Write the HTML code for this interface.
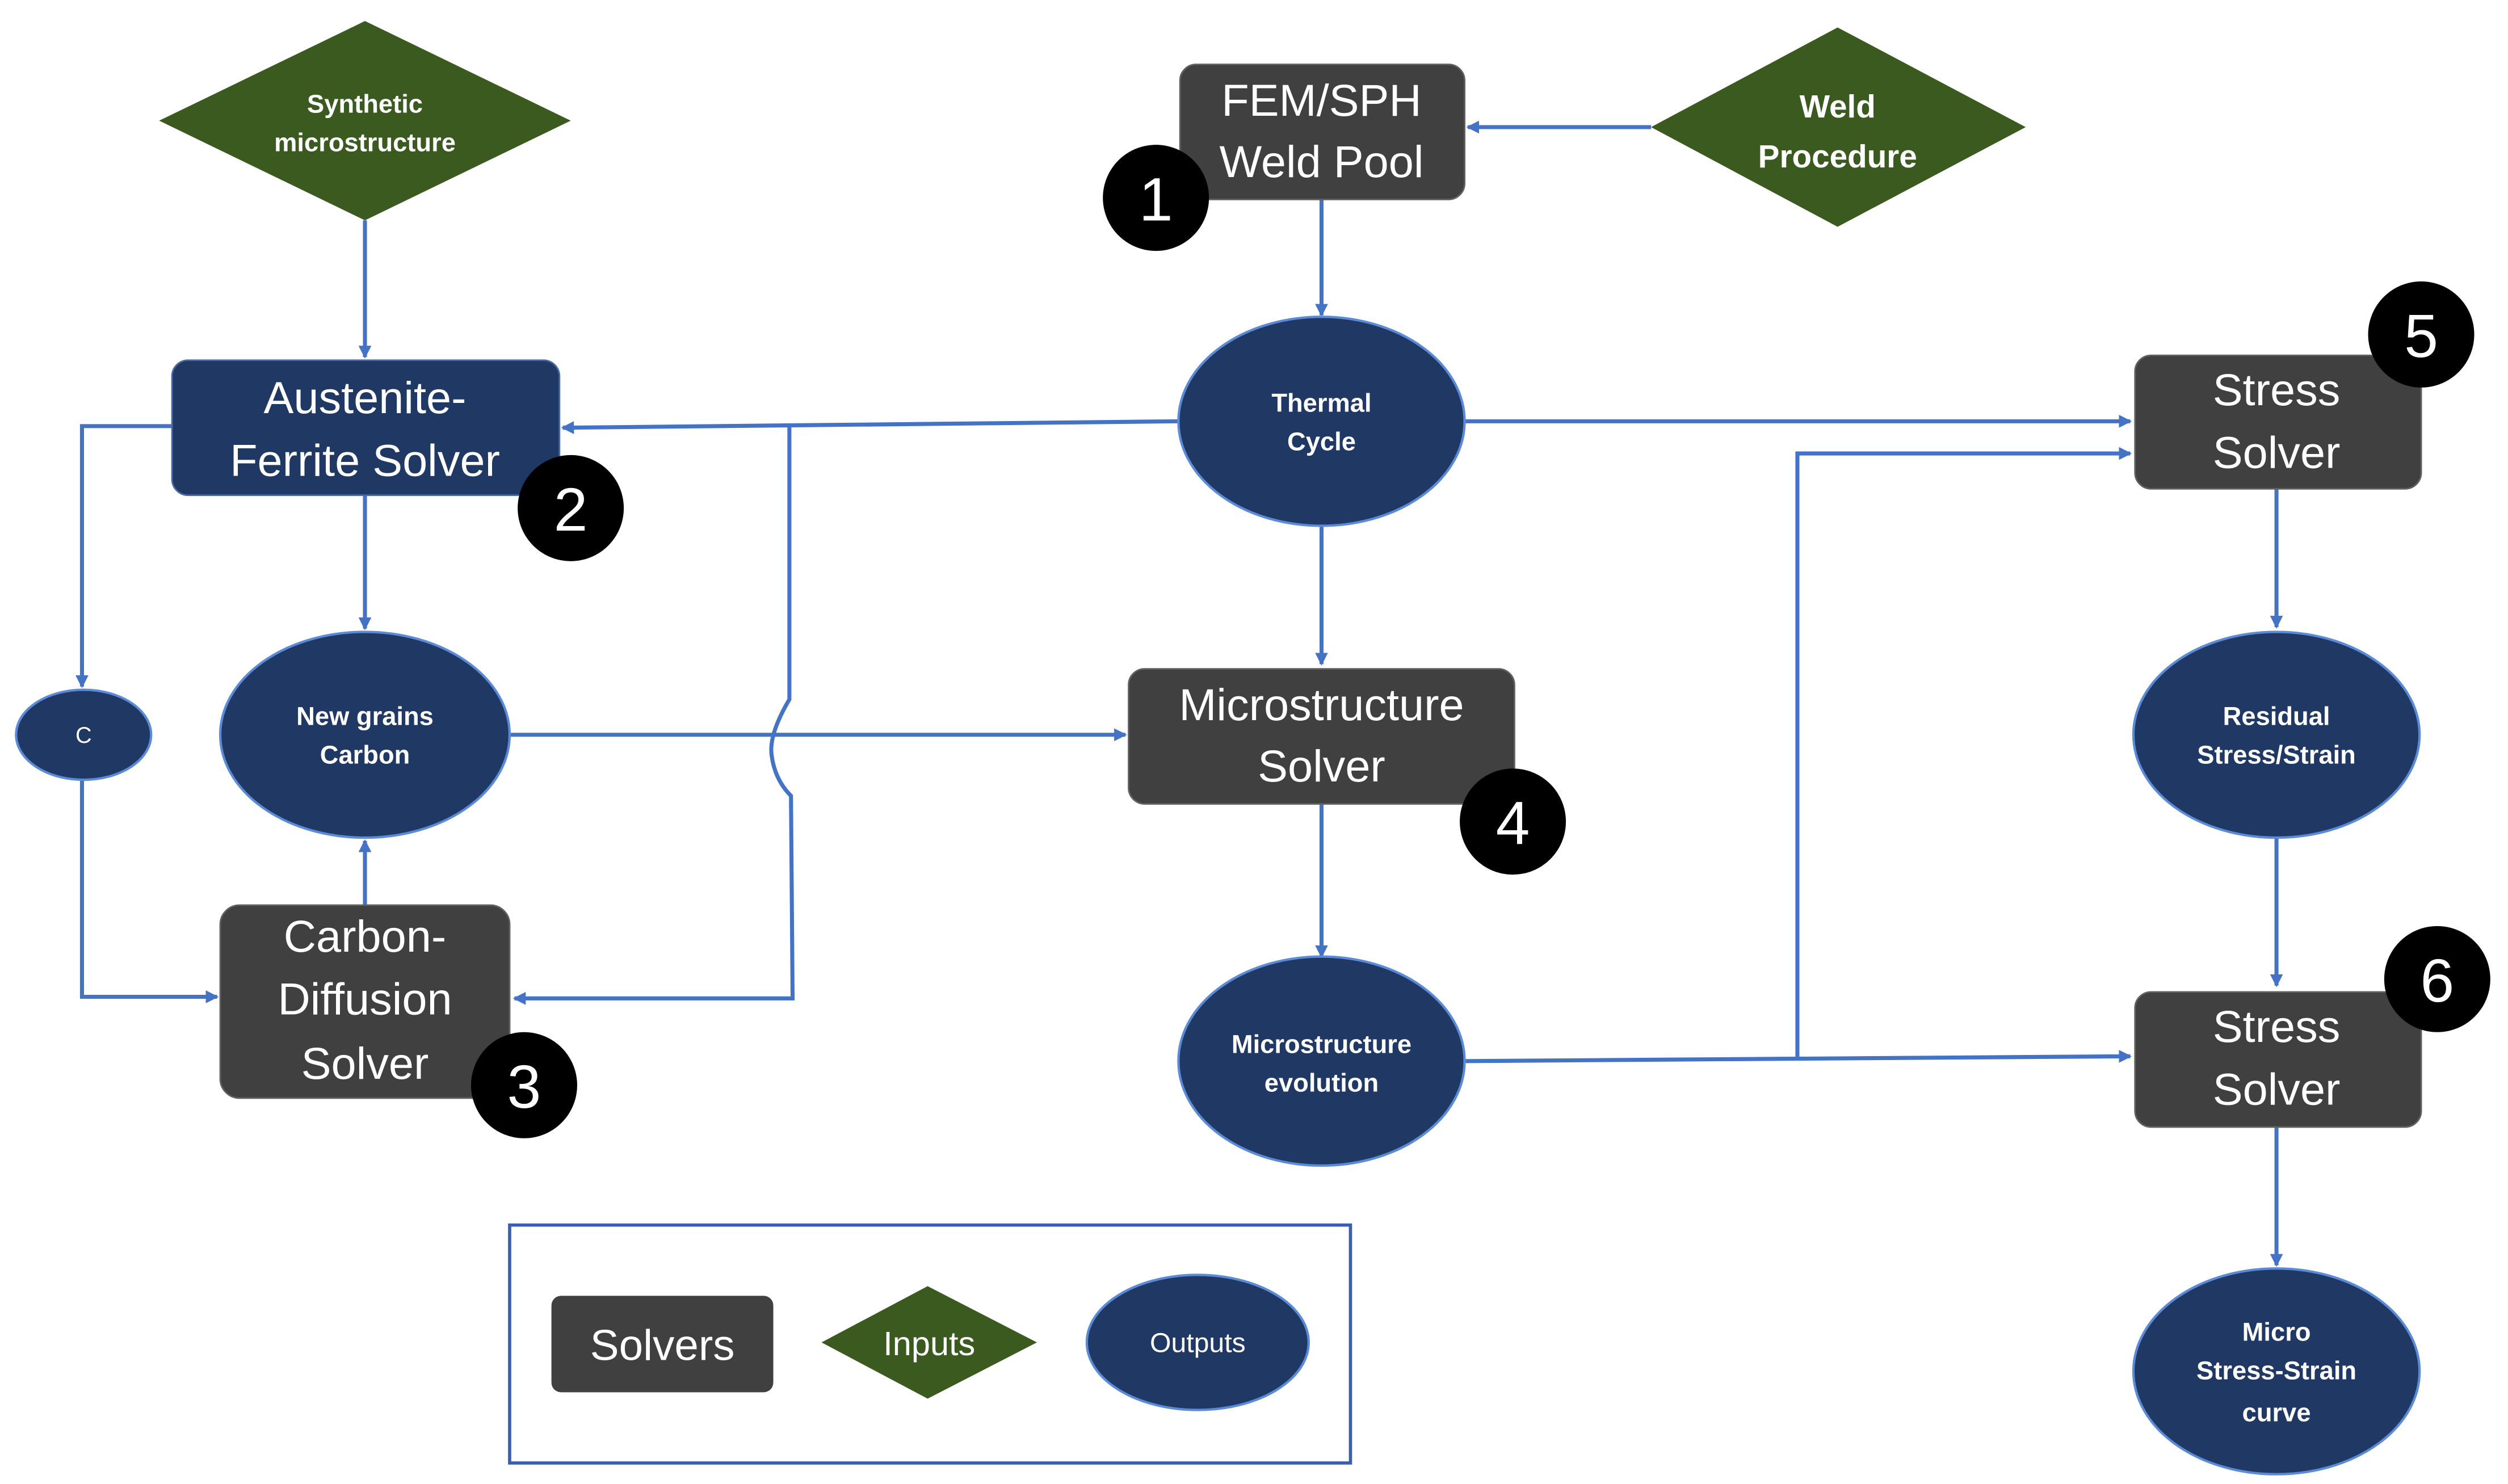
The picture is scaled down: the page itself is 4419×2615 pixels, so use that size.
<!DOCTYPE html>
<html><head><meta charset="utf-8"><style>
html,body{margin:0;padding:0;background:#fff;}
svg{display:block;}
text{font-family:"Liberation Sans",sans-serif;fill:#fff;text-anchor:middle;}
.b{font-size:28px;}
.e{font-size:16px;font-weight:bold;}
.n{font-size:38px;}
</style></head><body>
<svg width="4419" height="2615" viewBox="0 0 1560 923" xmlns="http://www.w3.org/2000/svg">
<defs><marker id="a" markerWidth="8" markerHeight="8" refX="7" refY="4" orient="auto" markerUnits="userSpaceOnUse"><path d="M0,0 L8,4 L0,8 z" fill="#4472c4"/></marker></defs>
<g stroke="#4472c4" stroke-width="2.5" fill="none">
<line x1="1027" y1="79" x2="913" y2="79" marker-end="url(#a)"/>
<line x1="822" y1="124" x2="822" y2="196" marker-end="url(#a)"/>
<line x1="227" y1="137" x2="227" y2="222" marker-end="url(#a)"/>
<line x1="733" y1="262" x2="350" y2="266" marker-end="url(#a)"/>
<path d="M491,265 L491,435 Q478,457 480,470 Q482,485 492,495 L493,621 L320,621" marker-end="url(#a)"/>
<path d="M107,265 L51,265 L51,427" marker-end="url(#a)"/>
<path d="M51,485 L51,620 L135,620" marker-end="url(#a)"/>
<line x1="227" y1="308" x2="227" y2="391" marker-end="url(#a)"/>
<line x1="227" y1="563" x2="227" y2="523" marker-end="url(#a)"/>
<line x1="317" y1="457" x2="700" y2="457" marker-end="url(#a)"/>
<line x1="822" y1="327" x2="822" y2="413" marker-end="url(#a)"/>
<line x1="822" y1="500" x2="822" y2="595" marker-end="url(#a)"/>
<line x1="911" y1="660" x2="1325" y2="657" marker-end="url(#a)"/>
<path d="M1118,659 L1118,282 L1325,282" marker-end="url(#a)"/>
<line x1="911" y1="262" x2="1325" y2="262" marker-end="url(#a)"/>
<line x1="1416" y1="304" x2="1416" y2="390" marker-end="url(#a)"/>
<line x1="1416" y1="521" x2="1416" y2="613" marker-end="url(#a)"/>
<line x1="1416" y1="701" x2="1416" y2="787" marker-end="url(#a)"/>
</g>
<!-- diamonds -->
<polygon points="99,75 227,13 355,75 227,137" fill="#3b5a1f"/>
<text class="e" x="227" y="70">Synthetic</text><text class="e" x="227" y="94">microstructure</text>
<polygon points="1027,79 1143,17 1260,79 1143,141" fill="#3b5a1f"/>
<text class="e" x="1143" y="73" style="font-size:20px">Weld</text><text class="e" x="1143" y="104" style="font-size:20px">Procedure</text>
<!-- boxes -->
<rect x="734" y="40" width="177" height="84" rx="10" fill="#404040" stroke="#606060"/>
<text class="b" x="822" y="72">FEM/SPH</text><text class="b" x="822" y="110">Weld Pool</text>
<rect x="107" y="224" width="241" height="84" rx="10" fill="#203864" stroke="#4a6aa0"/>
<text class="b" x="227" y="257">Austenite-</text><text class="b" x="227" y="296">Ferrite Solver</text>
<rect x="137" y="563" width="180" height="120" rx="12" fill="#404040" stroke="#606060"/>
<text class="b" x="227" y="592">Carbon-</text><text class="b" x="227" y="631">Diffusion</text><text class="b" x="227" y="671">Solver</text>
<rect x="702" y="416" width="240" height="84" rx="10" fill="#404040" stroke="#606060"/>
<text class="b" x="822" y="448">Microstructure</text><text class="b" x="822" y="486">Solver</text>
<rect x="1328" y="221" width="178" height="83" rx="10" fill="#404040" stroke="#606060"/>
<text class="b" x="1416" y="252">Stress</text><text class="b" x="1416" y="291">Solver</text>
<rect x="1328" y="617" width="178" height="84" rx="10" fill="#404040" stroke="#606060"/>
<text class="b" x="1416" y="648">Stress</text><text class="b" x="1416" y="687">Solver</text>
<!-- ellipses -->
<g fill="#203864" stroke="#5b8ad6" stroke-width="1.5">
<ellipse cx="822" cy="262" rx="89" ry="65"/>
<ellipse cx="52" cy="457" rx="42" ry="28"/>
<ellipse cx="227" cy="457" rx="90" ry="64"/>
<ellipse cx="822" cy="660" rx="89" ry="65"/>
<ellipse cx="1416" cy="457" rx="89" ry="64"/>
<ellipse cx="1416" cy="853" rx="89" ry="64"/>
</g>
<text class="e" x="822" y="256">Thermal</text><text class="e" x="822" y="280">Cycle</text>
<text class="e" x="52" y="462" style="font-weight:normal;font-size:14px">C</text>
<text class="e" x="227" y="451">New grains</text><text class="e" x="227" y="475">Carbon</text>
<text class="e" x="822" y="655">Microstructure</text><text class="e" x="822" y="679">evolution</text>
<text class="e" x="1416" y="451">Residual</text><text class="e" x="1416" y="475">Stress/Strain</text>
<text class="e" x="1416" y="834">Micro</text><text class="e" x="1416" y="858">Stress-Strain</text><text class="e" x="1416" y="884">curve</text>
<!-- badges -->
<g fill="#000"><circle cx="719" cy="123" r="33"/><circle cx="355" cy="316" r="33"/><circle cx="326" cy="675" r="33"/><circle cx="941" cy="511" r="33"/><circle cx="1506" cy="208" r="33"/><circle cx="1516" cy="609" r="33"/></g>
<text class="n" x="719" y="137">1</text><text class="n" x="355" y="330">2</text><text class="n" x="326" y="689">3</text><text class="n" x="941" y="525">4</text><text class="n" x="1506" y="222">5</text><text class="n" x="1516" y="623">6</text>
<!-- legend -->
<rect x="317" y="762" width="523" height="148" fill="none" stroke="#3b5fb0" stroke-width="2"/>
<rect x="343" y="806" width="138" height="60" rx="6" fill="#404040"/>
<text class="b" x="412" y="846" style="font-size:27px">Solvers</text>
<polygon points="511,835 577,800 645,835 577,870" fill="#3b5a1f"/>
<text x="578" y="843" style="font-size:21px">Inputs</text>
<ellipse cx="745" cy="835" rx="69" ry="42" fill="#203864" stroke="#5b8ad6" stroke-width="1.5"/>
<text x="745" y="841" style="font-size:17px">Outputs</text>
</svg>
</body></html>
